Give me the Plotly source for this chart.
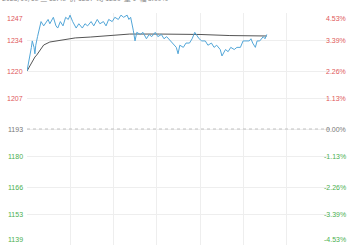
import plotly.graph_objects as go

# ---- data ----
prev_close = 1193
price_ticks = [1247, 1234, 1220, 1207, 1193, 1180, 1166, 1153, 1139]
pct_ticks = ["4.53%", "3.39%", "2.26%", "1.13%", "0.00%", "-1.13%", "-2.26%", "-3.39%", "-4.53%"]
time_labels = ["21:00", "21:45", "09:00", "09:45", "10:30", "11:00", "13:45", "14:30"]
total_minutes = 345
header = "2023/09/18 二 13:48  价 1237  均 1236  量 0  幅 3.69%"

price_min = [0, 3, 5, 6, 8, 9, 10, 12, 14, 16, 19, 21, 24, 26, 30, 33, 35, 38, 41, 44,
             47, 49, 52, 56, 59, 63, 66, 69, 73, 76, 80, 83, 87, 90, 93, 97, 100, 104, 107, 110,
             114, 116, 118, 121, 123, 125, 129, 132, 136, 139, 142, 146, 149, 153, 156, 159, 163, 166, 170, 172,
             174, 178, 181, 185, 188, 191, 194, 196, 199, 203, 206, 210, 213, 216, 220, 222, 226, 229, 232, 236,
             239, 243, 246, 249, 253, 255, 257, 260, 262, 265, 269, 271, 273]
price = [1220, 1226, 1231, 1234, 1231, 1228, 1232, 1236, 1239, 1243, 1241, 1242, 1244, 1242, 1245, 1241, 1240, 1243, 1241, 1245,
         1244, 1246, 1243, 1240, 1242, 1240, 1242, 1241, 1243, 1241, 1244, 1242, 1243, 1241, 1244, 1243, 1245, 1244, 1246, 1245,
         1246, 1244, 1245, 1239, 1234, 1238, 1237, 1238, 1235, 1237, 1236, 1238, 1236, 1237, 1235, 1236, 1234, 1233, 1231, 1228,
         1232, 1231, 1233, 1233, 1235, 1238, 1236, 1235, 1234, 1234, 1232, 1233, 1231, 1232, 1230, 1227, 1230, 1229, 1231, 1230,
         1231, 1231, 1234, 1234, 1234, 1235, 1233, 1231, 1234, 1234, 1236, 1235, 1237]

avg_min = [0, 3, 6, 9, 11, 15, 19, 26, 38, 55, 72, 94, 117, 151, 197, 231, 273]
avg_price = [1220, 1222.3, 1224.2, 1226.5, 1227.4, 1229.8, 1232.1, 1233.5, 1234.4, 1235.4, 1235.8, 1236.5, 1237.2, 1237.2, 1237.0, 1236.5, 1236.3]

RED = "#e0585a"
GREEN = "#4caf50"
GRAY = "#777777"

fig = go.Figure()
fig.add_trace(go.Scatter(x=avg_min, y=avg_price, mode="lines",
                         line=dict(color="#555555", width=1), hoverinfo="skip"))
fig.add_trace(go.Scatter(x=price_min, y=price, mode="lines",
                         line=dict(color="#52a6d8", width=1), hoverinfo="skip"))

# zero (previous close) dashed line
fig.add_shape(type="line", xref="paper", x0=0, x1=1, yref="y", y0=prev_close, y1=prev_close,
              line=dict(color="#c0c0c0", width=1, dash="3px,3px"))

n = len(time_labels)
tickvals = [total_minutes * i / (n - 1) for i in range(n)]

annotations = []
for i, (p, pc) in enumerate(zip(price_ticks, pct_ticks)):
    col = RED if p > prev_close else (GREEN if p < prev_close else GRAY)
    if i == 0:
        ya = "top"
    elif i == len(price_ticks) - 1:
        ya = "bottom"
    else:
        ya = "middle"
    annotations.append(dict(x=0, xref="paper", y=p, yref="y", text=str(p), showarrow=False,
                            xanchor="right", yanchor=ya, xshift=-2,
                            font=dict(size=7, color=col, family="Arial")))
    annotations.append(dict(x=1, xref="paper", y=p, yref="y", text=pc, showarrow=False,
                            xanchor="right", yanchor=ya, xshift=18,
                            font=dict(size=7, color=col, family="Arial")))

for tv, tl in zip(tickvals, time_labels):
    annotations.append(dict(x=tv, xref="x", y=0, yref="paper", text=tl, showarrow=False,
                            xanchor="center", yanchor="top", yshift=-2,
                            font=dict(size=7, color="#555555", family="Arial")))

annotations.append(dict(x=0, xref="paper", y=1, yref="paper", text=header, showarrow=False,
                        xanchor="left", yanchor="bottom", xshift=-27, yshift=8,
                        font=dict(size=7, color="#888888", family="Noto Sans CJK SC")))

fig.update_layout(
    width=350, height=250,
    margin=dict(l=27, r=20, t=13, b=5),
    paper_bgcolor="white", plot_bgcolor="white",
    showlegend=False,
    annotations=annotations,
    xaxis=dict(range=[0, total_minutes], tickvals=tickvals, showticklabels=False,
               showgrid=True, gridcolor="#eeeeee", gridwidth=1, zeroline=False,
               showline=False, fixedrange=True),
    yaxis=dict(range=[price_ticks[-1], price_ticks[0]], tickvals=price_ticks,
               showticklabels=False, showgrid=True, gridcolor="#eeeeee", gridwidth=1,
               zeroline=False, showline=False, fixedrange=True),
)

fig.write_html("out.html", config={"displayModeBar": False})
